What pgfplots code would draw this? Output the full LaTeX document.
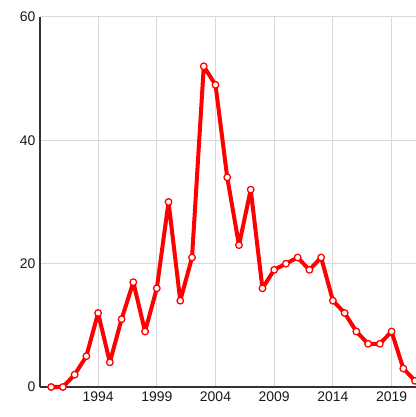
\documentclass[border=0pt]{standalone}
\usepackage{pgfplots}
\pgfplotsset{compat=1.18}
\usepackage{fontspec}
\setmainfont{Liberation Sans}
\begin{document}
\begin{tikzpicture}[x=1bp,y=1bp]
\clip (0,0) rectangle (416,417);
\path[use as bounding box] (0,0) rectangle (416,417);
\begin{axis}[
  at={(40bp,30bp)}, anchor=south west,
  scale only axis,
  width=386.8bp, height=370bp,
  xmin=1989.05, xmax=2022,
  ymin=0, ymax=60,
  xtick={1994,1999,2004,2009,2014,2019},
  ytick={0,20,40,60},
  /pgf/number format/1000 sep={},
  /pgf/number format/assume math mode=true,
  axis lines*=left,
  axis line style={black!80, line width=1.2bp},
  grid=major,
  major grid style={gray!30, line width=1bp},
  major tick length=0pt,
  tick label style={font=\fontsize{14}{16}\selectfont, text=black!90},
  yticklabel style={xshift=-1bp},
  xticklabel style={yshift=-1bp},
  clip=false,
]
\addplot[red, line width=4bp, line join=round, line cap=round, mark=*, mark size=3.3bp,
  mark options={fill=white, draw=red, line width=1.3bp}]
coordinates {
(1990,0)(1991,0)(1992,2)(1993,5)(1994,12)(1995,4)(1996,11)(1997,17)(1998,9)(1999,16)
(2000,30)(2001,14)(2002,21)(2003,52)(2004,49)(2005,34)(2006,23)(2007,32)(2008,16)(2009,19)
(2010,20)(2011,21)(2012,19)(2013,21)(2014,14)(2015,12)(2016,9)(2017,7)(2018,7)(2019,9)
(2020,3)(2021,1)
};
\end{axis}
\end{tikzpicture}
\end{document}
